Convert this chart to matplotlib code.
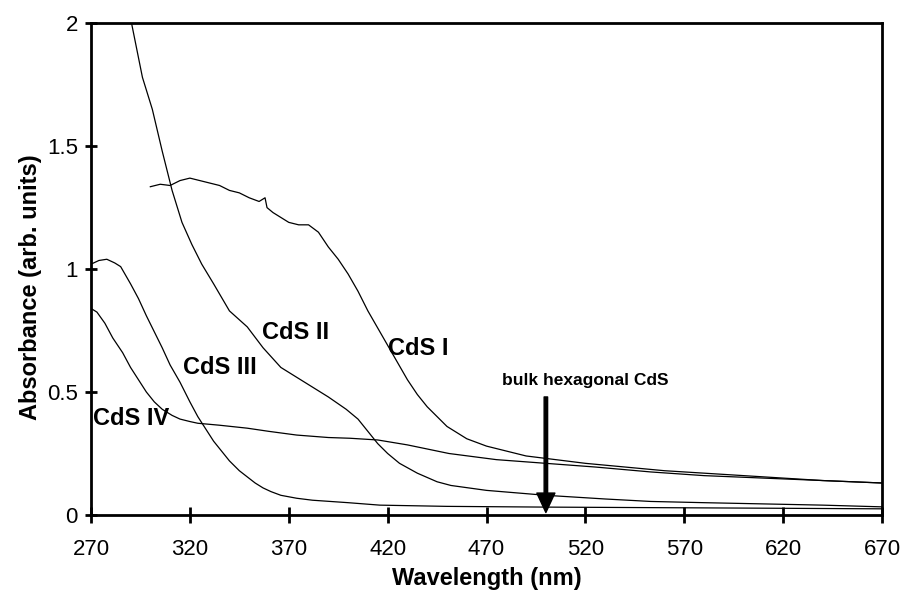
import matplotlib
matplotlib.use('Agg')
import matplotlib.pyplot as plt

plt.rcParams['font.family'] = ['Liberation Sans', 'DejaVu Sans']

# CdS I
x1 = [300, 305, 310, 315, 320, 325, 330, 335, 340, 345, 350, 355, 358, 359,
      362, 366, 370, 375, 380, 385, 390, 395, 400, 405, 410, 415, 420, 425,
      430, 435, 440, 445, 450, 460, 470, 480, 490, 500, 520, 540, 560, 580,
      600, 620, 640, 670]
y1 = [1.335, 1.345, 1.34, 1.36, 1.37, 1.36, 1.35, 1.34, 1.32, 1.31, 1.29,
      1.275, 1.29, 1.25, 1.23, 1.21, 1.19, 1.18, 1.18, 1.15, 1.09, 1.04,
      0.98, 0.91, 0.83, 0.76, 0.69, 0.62, 0.55, 0.49, 0.44, 0.40, 0.36,
      0.31, 0.28, 0.26, 0.24, 0.23, 0.21, 0.195, 0.18, 0.17, 0.16, 0.15,
      0.14, 0.13]

# CdS II
x2 = [290.5, 296, 301, 306, 311, 316, 321, 326, 332, 340, 349, 357, 366,
      374, 382, 390, 399, 405, 410, 415, 420, 426, 435, 445, 452, 470, 500,
      530, 553, 580, 610, 640, 670]
y2 = [2.0, 1.78, 1.65, 1.48, 1.32, 1.19, 1.10, 1.02, 0.94, 0.83, 0.765,
      0.68, 0.60, 0.56, 0.52, 0.48, 0.43, 0.39, 0.34, 0.29, 0.25, 0.21,
      0.17, 0.135, 0.12, 0.10, 0.08, 0.065, 0.055, 0.05, 0.045, 0.04, 0.033]

# CdS III
x3 = [270, 274, 278, 282, 285, 290, 294, 298, 302, 306, 310, 315, 320, 324,
      328, 332, 336, 340, 345, 349, 353, 357, 361, 366, 374, 382, 400, 416,
      450, 500, 550, 600, 670]
y3 = [1.02, 1.035, 1.04, 1.025, 1.01, 0.94, 0.88, 0.81, 0.745, 0.68, 0.61,
      0.54, 0.46, 0.40, 0.35, 0.30, 0.26, 0.22, 0.18, 0.155, 0.13, 0.11,
      0.095, 0.08, 0.068, 0.06, 0.05, 0.04, 0.035, 0.032, 0.03, 0.028, 0.025]

# CdS IV
x4 = [270, 273, 277, 281, 286, 290, 294, 298, 302, 306, 311, 315, 320, 324,
      335, 349, 360, 374, 390, 401, 415, 430, 451, 475, 500, 525, 553, 580,
      610, 640, 670]
y4 = [0.84, 0.825, 0.78, 0.72, 0.66, 0.60, 0.55, 0.50, 0.46, 0.43, 0.405,
      0.39, 0.38, 0.373, 0.365, 0.353, 0.34, 0.325, 0.315, 0.312, 0.305,
      0.285, 0.25, 0.225, 0.21, 0.195, 0.175, 0.16, 0.15, 0.14, 0.13]

xticks = [270, 320, 370, 420, 470, 520, 570, 620, 670]
yticks = [0, 0.5, 1, 1.5, 2]
ytick_labels = ['0', '0.5', '1', '1.5', '2']

fig = plt.figure(figsize=(9.01, 5.95), dpi=100)
ax = fig.add_axes([0.101, 0.1345, 0.878, 0.8265])

for xs, ys in [(x1, y1), (x2, y2), (x3, y3), (x4, y4)]:
    ax.plot(xs, ys, color='black', linewidth=0.9)

ax.set_xlim(270, 670)
ax.set_ylim(0, 2)
ax.set_xticks(xticks)
ax.set_xticklabels([str(t) for t in xticks])
ax.set_yticks(yticks)
ax.set_yticklabels(ytick_labels)

for s in ax.spines.values():
    s.set_linewidth(2.0)
ax.tick_params(axis='x', direction='inout', length=12, width=2.0,
               labelsize=16, pad=11)
ax.tick_params(axis='y', direction='inout', length=9, width=2.0,
               labelsize=16, pad=5)

ax.set_xlabel('Wavelength (nm)', fontsize=17, fontweight='bold', labelpad=5)
ax.set_ylabel('Absorbance (arb. units)', fontsize=17, fontweight='bold')
ax.yaxis.set_label_coords(-0.062, 0.463)

lab = dict(fontsize=17, fontweight='bold', ha='center', va='center')
ax.text(373.6, 0.744, 'CdS II', **lab)
ax.text(435.3, 0.678, 'CdS I', **lab)
ax.text(335.2, 0.598, 'CdS III', **lab)
ax.text(290.5, 0.394, 'CdS IV', **lab)
ax.text(520, 0.545, 'bulk hexagonal CdS', fontsize=12.5, fontweight='bold',
        ha='center', va='center')

ax.annotate('', xy=(500, 0.01), xytext=(500, 0.48),
            arrowprops=dict(facecolor='black', edgecolor='black',
                            width=2.5, headwidth=13, headlength=14))

fig.savefig('out.png', dpi=100)
